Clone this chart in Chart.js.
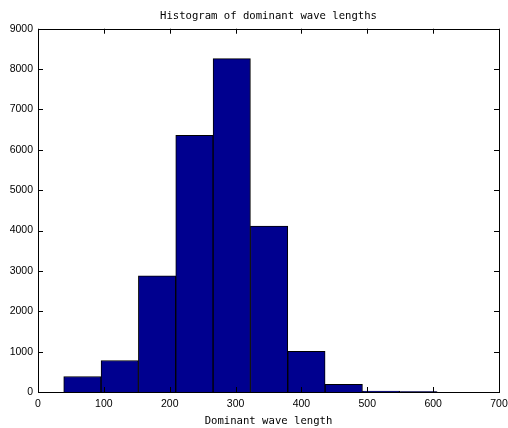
<!DOCTYPE html>
<html>
<head>
<meta charset="utf-8">
<script src="https://cdn.jsdelivr.net/npm/chart.js@4/dist/chart.umd.min.js"></script>
<style>
html,body{margin:0;padding:0;background:#fff;}
#wrap{width:508px;height:428px;position:relative;}
</style>
</head>
<body>
<div id="wrap"><canvas id="c" width="508" height="428"></canvas></div>
<script>
// Data
const binCenters = [67.4, 124.1, 180.8, 237.5, 294.2, 350.9, 407.6, 464.3, 521.0, 577.7];
const counts = [385, 780, 2880, 6360, 8260, 4110, 1010, 190, 25, 10];
const xTicks = [0, 100, 200, 300, 400, 500, 600, 700];
const yTicks = [0, 1000, 2000, 3000, 4000, 5000, 6000, 7000, 8000, 9000];
const titleText = 'Histogram of dominant wave lengths';
const xLabel = 'Dominant wave length';

const monoFont = "'DejaVu Sans Mono', monospace";
const tickFont = "'Liberation Sans', Arial, sans-serif";

const boxTicks = {
  id: 'boxTicks',
  afterDatasetsDraw(chart) {
    const ctx = chart.ctx;
    const a = chart.chartArea;
    const xs = chart.scales.x, ys = chart.scales.y;
    const L = 5;
    ctx.save();
    ctx.strokeStyle = '#000';
    ctx.lineWidth = 1;
    ctx.beginPath();
    xTicks.forEach(v => {
      const px = Math.round(xs.getPixelForValue(v)) + 0.5;
      ctx.moveTo(px, a.bottom); ctx.lineTo(px, a.bottom - L);
      ctx.moveTo(px, a.top); ctx.lineTo(px, a.top + L);
    });
    yTicks.forEach(v => {
      const py = Math.round(ys.getPixelForValue(v)) + 0.5;
      ctx.moveTo(a.left, py); ctx.lineTo(a.left + L, py);
      ctx.moveTo(a.right, py); ctx.lineTo(a.right - L, py);
    });
    ctx.stroke();
    ctx.strokeRect(Math.round(a.left) + 0.5, Math.round(a.top) + 0.5,
                   Math.round(a.right - a.left), Math.round(a.bottom - a.top));
    ctx.restore();
  }
};

new Chart(document.getElementById('c'), {
  type: 'bar',
  data: {
    datasets: [{
      data: binCenters.map((x, i) => ({ x: x, y: counts[i] })),
      backgroundColor: '#00008F',
      borderColor: '#000000',
      borderWidth: 1,
      barPercentage: 1,
      categoryPercentage: 1
    }]
  },
  options: {
    responsive: false,
    animation: false,
    devicePixelRatio: 1,
    layout: { padding: { left: 0, right: 0, top: 0, bottom: 0 } },
    plugins: {
      legend: { display: false },
      tooltip: { enabled: false },
      title: {
        display: true,
        fullSize: false,
        text: titleText,
        color: '#000',
        font: { family: monoFont, size: 10.6, weight: 'normal' },
        padding: { top: 10, bottom: 6 }
      }
    },
    scales: {
      x: {
        type: 'linear',
        offset: false,
        min: 0, max: 700,
        afterBuildTicks: s => { s.ticks = xTicks.map(v => ({ value: v })); },
        afterFit: s => { s.height = 36; s.paddingRight = 9; },
        grid: { display: false, drawTicks: false, offset: false },
        border: { display: false },
        ticks: { color: '#000', font: { family: tickFont, size: 10.5 }, padding: 6, maxRotation: 0,
                 callback: v => String(v) },
        title: {
          display: true, text: xLabel, color: '#000',
          font: { family: monoFont, size: 10.6 }, padding: { top: 2, bottom: 0 }
        }
      },
      y: {
        type: 'linear',
        min: 0, max: 9000,
        afterBuildTicks: s => { s.ticks = yTicks.map(v => ({ value: v })); },
        afterFit: s => { s.width = 38; },
        grid: { display: false, drawTicks: false },
        border: { display: false },
        ticks: { color: '#000', font: { family: tickFont, size: 10.5 }, padding: 5,
                 callback: v => String(v) }
      }
    }
  },
  plugins: [boxTicks]
});
</script>
</body>
</html>
